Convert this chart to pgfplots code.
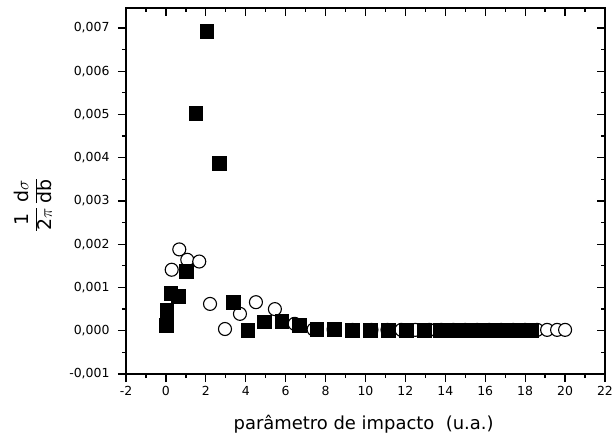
\documentclass[border=0pt]{standalone}
\usepackage{pgfplots}
\pgfplotsset{compat=1.18}
\usepackage{graphicx}
\usepackage{fontspec}
\setmainfont{DejaVu Sans}

% filled squares
\pgfplotstableread{
x y
0.00 0.00012
0.04 0.00047
0.24 0.00086
0.62 0.00080
1.00 0.00137
1.49 0.00503
2.04 0.00692
2.66 0.00387
3.38 0.00066
4.10 0.00002
4.92 0.00021
5.80 0.00022
6.67 0.00012
7.55 0.00003
8.45 0.00003
9.35 0.00002
10.25 0.00002
11.15 0.00002
12.05 0.00002
12.95 0.00002
13.75 0.00002
14.25 0.00002
14.40 0.00002
14.55 0.00002
14.70 0.00002
14.85 0.00002
15.00 0.00002
15.15 0.00002
15.30 0.00002
15.45 0.00002
15.60 0.00002
15.75 0.00002
15.90 0.00002
16.05 0.00002
16.20 0.00002
16.35 0.00002
16.50 0.00002
16.65 0.00002
16.80 0.00002
16.95 0.00002
17.10 0.00002
17.25 0.00002
17.40 0.00002
17.55 0.00002
17.70 0.00002
17.85 0.00002
18.00 0.00002
18.15 0.00002
18.30 0.00002
}\squares

% open circles
\pgfplotstableread{
x y
0.29 0.00141
0.67 0.00188
1.07 0.00164
1.67 0.00160
2.21 0.00062
2.96 0.00004
3.71 0.00039
4.51 0.00066
5.46 0.00050
6.45 0.00016
7.40 0.00003
8.40 0.00003
9.35 0.00002
10.30 0.00002
11.10 0.00002
11.80 0.00002
12.50 0.00002
13.20 0.00002
13.80 0.00002
14.40 0.00002
15.00 0.00002
15.60 0.00002
16.20 0.00002
16.80 0.00002
17.40 0.00002
18.00 0.00002
18.60 0.00002
19.10 0.00002
19.60 0.00002
20.00 0.00002
}\circles

\pgfplotsset{
  frame/.style={
    scale only axis, width=479bp, height=366bp,
    xmin=-2, xmax=22, ymin=-0.001, ymax=0.00746,
    xtick={-2,0,2,4,6,8,10,12,14,16,18,20,22},
    ytick={-0.001,0,0.001,0.002,0.003,0.004,0.005,0.006,0.007},
    minor x tick num=1, minor y tick num=1,
    scaled y ticks=false, scaled x ticks=false,
    major tick length=8bp, minor tick length=4bp,
    every tick/.style={black, line width=1.3bp},
    axis line style={line width=1.5bp},
  },
}

\begin{document}
\begin{tikzpicture}
\begin{axis}[frame,
  clip=false,
  tick align=outside, xtick pos=bottom, ytick pos=left,
  xticklabels={-2,0,2,4,6,8,10,12,14,16,18,20,22},
  yticklabels={{-0,001},{0,000},{0,001},{0,002},{0,003},{0,004},{0,005},{0,006},{0,007}},
  tick label style={font=\fontsize{12.5}{14}\selectfont},
  xticklabel style={yshift=-1bp},
  yticklabel style={xshift=-5bp},
  xlabel={parâmetro de impacto\ \ (u.a.)},
  xlabel style={font=\fontsize{18}{20}\selectfont, at={(axis description cs:0.496,-0.137)}, anchor=center},
]
\addplot[only marks, mark=*, mark size=6.5bp,
  mark options={draw=black, fill=white, line width=1.1bp}] table[x=x,y=y] {\circles};
\addplot[only marks, mark=square*, mark size=6.9bp,
  mark options={draw=black, fill=black, line width=0.4bp}] table[x=x,y=y] {\squares};
% vertical axis title
\node[anchor=center, font=\fontsize{19}{21}\selectfont, inner sep=0pt]
  at (rel axis cs:-0.194,0.462)
  {\rotatebox{90}{$\displaystyle\frac{\mbox{1}}{\mbox{2}\pi}\,\frac{\mbox{d}\sigma}{\mbox{db}}$}};
\end{axis}
\begin{axis}[frame,
  tick align=inside, xtick pos=top, ytick pos=right,
  xticklabels={}, yticklabels={},
]
\end{axis}
\pgfresetboundingbox
\useasboundingbox ([xshift=-126bp,yshift=-63bp]current axis.south west)
  rectangle ([xshift=7bp,yshift=8bp]current axis.north east);
\end{tikzpicture}
\end{document}
